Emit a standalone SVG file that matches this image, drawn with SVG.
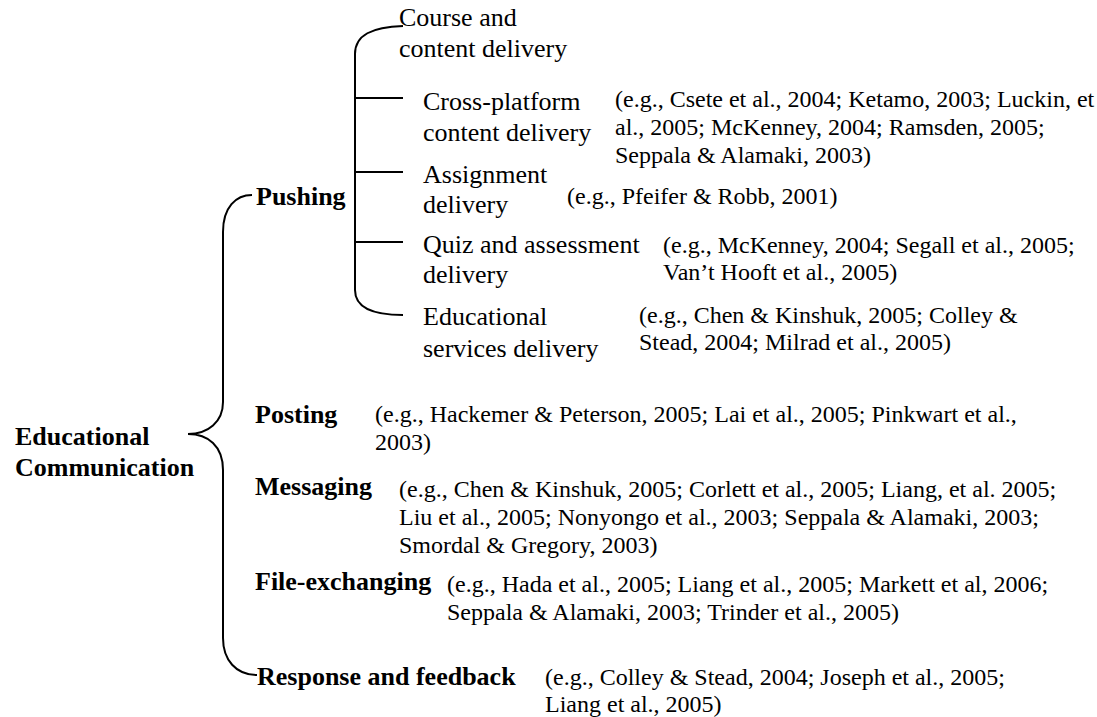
<svg xmlns="http://www.w3.org/2000/svg" width="1097" height="717" viewBox="0 0 1097 717">
<style>
.lbl{font-family:"Liberation Serif","Times New Roman",serif;font-size:26px;fill:#000}
.b{font-weight:bold}
.cit{font-family:"Liberation Serif","Times New Roman",serif;font-size:24px;fill:#000}
.ln{fill:none;stroke:#000;stroke-width:2}
</style>
<rect width="1097" height="717" fill="#fff"/>
<g id="connectors">
<path class="ln" d="M252 195 C236 195 223 207 223 232 L223 402 C223 422 208 434 188 434 C208 434 223 446 223 470 L223 638 C223 660 236 675 257 675"/>
<path class="ln" d="M403 26 C372 27 355 35 355 54 L355 290 C355 307 372 315 403 315"/>
<path class="ln" d="M355 98 H403 M355 172 H403 M355 242 H403"/>
</g>
<g id="root"><text class="lbl b" x="15" y="445">Educational</text><text class="lbl b" x="15" y="476">Communication</text></g>
<g id="pushing"><text class="lbl b" x="256" y="205">Pushing</text></g>
<g id="course"><text class="lbl" x="399" y="26">Course and</text><text class="lbl" x="399" y="57">content delivery</text></g>
<g id="crossplatform"><text class="lbl" x="423" y="110">Cross-platform</text><text class="lbl" x="423" y="141">content delivery</text>
<text class="cit" x="615" y="107">(e.g., Csete et al., 2004; Ketamo, 2003; Luckin, et</text><text class="cit" x="615" y="135">al., 2005; McKenney, 2004; Ramsden, 2005;</text><text class="cit" x="615" y="163">Seppala &amp; Alamaki, 2003)</text></g>
<g id="assignment"><text class="lbl" x="423" y="183">Assignment</text><text class="lbl" x="423" y="213">delivery</text>
<text class="cit" x="567" y="204">(e.g., Pfeifer &amp; Robb, 2001)</text></g>
<g id="quiz"><text class="lbl" x="423" y="253">Quiz and assessment</text><text class="lbl" x="423" y="283">delivery</text>
<text class="cit" x="663" y="253">(e.g., McKenney, 2004; Segall et al., 2005;</text><text class="cit" x="663" y="280">Van’t Hooft et al., 2005)</text></g>
<g id="services"><text class="lbl" x="423" y="325">Educational</text><text class="lbl" x="423" y="357">services delivery</text>
<text class="cit" x="639" y="323">(e.g., Chen &amp; Kinshuk, 2005; Colley &amp;</text><text class="cit" x="639" y="350">Stead, 2004; Milrad et al., 2005)</text></g>
<g id="posting"><text class="lbl b" x="255" y="423">Posting</text>
<text class="cit" x="375" y="422">(e.g., Hackemer &amp; Peterson, 2005; Lai et al., 2005; Pinkwart et al.,</text><text class="cit" x="375" y="450">2003)</text></g>
<g id="messaging"><text class="lbl b" x="255" y="495">Messaging</text>
<text class="cit" x="399" y="497">(e.g., Chen &amp; Kinshuk, 2005; Corlett et al., 2005; Liang, et al. 2005;</text><text class="cit" x="399" y="525">Liu et al., 2005; Nonyongo et al., 2003; Seppala &amp; Alamaki, 2003;</text><text class="cit" x="399" y="553">Smordal &amp; Gregory, 2003)</text></g>
<g id="fileexchanging"><text class="lbl b" x="255" y="590">File-exchanging</text>
<text class="cit" x="447" y="592">(e.g., Hada et al., 2005; Liang et al., 2005; Markett et al, 2006;</text><text class="cit" x="447" y="620">Seppala &amp; Alamaki, 2003; Trinder et al., 2005)</text></g>
<g id="response"><text class="lbl b" x="257" y="685">Response and feedback</text>
<text class="cit" x="545" y="685">(e.g., Colley &amp; Stead, 2004; Joseph et al., 2005;</text><text class="cit" x="545" y="712">Liang et al., 2005)</text></g>
</svg>
